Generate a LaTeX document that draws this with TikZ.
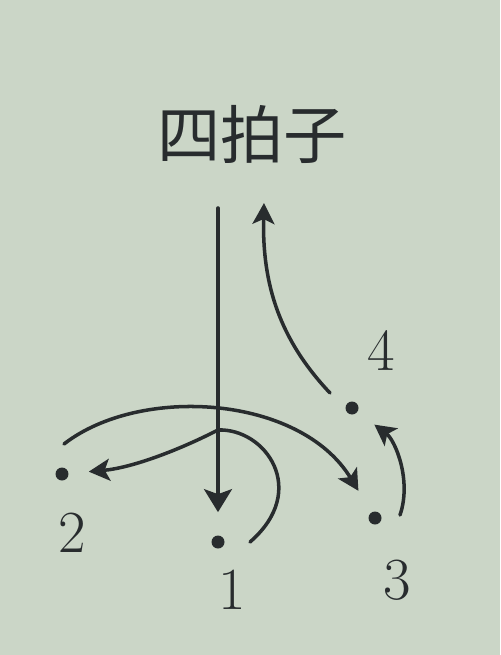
\documentclass[tikz,border=0pt]{standalone}
\usepackage{fontspec}
\usepackage{xcolor}
\newfontfamily\cjk{Noto Sans CJK SC}
\usetikzlibrary{arrows.meta}
\definecolor{paper}{RGB}{203,214,199}
\definecolor{ink}{RGB}{40,44,46}

\begin{document}
\begin{tikzpicture}[x=0.02cm,y=-0.02cm,
        beat/.style={circle,fill=ink,inner sep=0pt,minimum size=0.26cm},
        num/.style={font=\fontsize{34}{34}\selectfont,text=ink},
        swing/.style={draw=ink,line width=2pt,line cap=round,
            -{Stealth[length=0.42cm,width=0.44cm,inset=0.1cm]}},
        bighead/.style={-{Stealth[length=0.46cm,width=0.56cm,inset=0.1cm]}}]
    \fill[paper] (0,0) rectangle (500,655);
    \useasboundingbox (0,0) rectangle (500,655);
    % title
    \node[font=\cjk\fontsize{36}{36}\selectfont,text=ink] (title) at (252,134) {四拍子};
    % beats
    \node[beat] (p1) at (218,542) {};
    \node[beat] (p2) at (62,474) {};
    \node[beat] (p3) at (375,518) {};
    \node[beat] (p4) at (352,408) {};
    \node[num] (n1) at (232,590) {1};
    \node[num] (n2) at (72,533) {2};
    \node[num] (n3) at (397,580) {3};
    \node[num] (n4) at (381,351) {4};
    % ends of the curves
    \coordinate (top) at (218,208);
    \coordinate (split) at (218,430);
    \coordinate (hook) at (250,542);
    \coordinate (from2) at (64,444);
    \coordinate (from3) at (400,515);
    \coordinate (from4) at (330,393);
    \coordinate (up) at (264,203);
    % strokes
    \draw[swing,bighead,shorten >=0.46cm] (top) -- (p1);
    \draw[swing,shorten >=0.4cm] (split) .. controls (175,452) and (130,468) .. (p2);
    \draw[swing,-] (split) .. controls (265,428) and (310,490) .. (hook);
    \draw[swing,shorten >=0.5cm] (from2) .. controls (140,385) and (300,395) .. (p3);
    \draw[swing,shorten >=0.42cm] (from3) .. controls (412,480) and (395,440) .. (p4);
    \draw[swing] (from4) .. controls (280,340) and (262,285) .. (up);
\end{tikzpicture}
\end{document}
